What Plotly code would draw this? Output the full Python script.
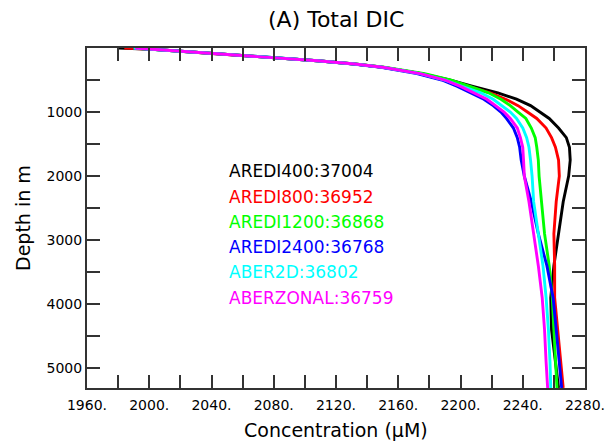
import plotly.graph_objects as go

depth = [0, 10, 20, 50, 100, 150, 200, 250, 300, 400, 500, 600, 700, 800, 900,
         1000, 1100, 1250, 1400, 1550, 1750, 2000, 2400, 2900, 3400, 3900,
         4400, 4900, 5310]

aredi400 = [1980, 1993, 2002, 2020, 2050, 2080, 2108, 2132, 2150, 2175, 2193, 2208,
            2224, 2236, 2245, 2251, 2257, 2263, 2268, 2270, 2270.5, 2269.5, 2266,
            2263, 2260, 2258, 2258.5, 2261, 2263]
aredi800 = [1984, 1995, 2002, 2020, 2050, 2080, 2108, 2132, 2150, 2175, 2192, 2205,
            2219, 2229, 2237, 2243, 2249, 2255, 2258.5, 2261, 2263, 2263.5, 2261.5,
            2260, 2260.5, 2260.5, 2262.5, 2264.5, 2266]
aredi1200 = [1990, 1997, 2002, 2020, 2050, 2080, 2108, 2132, 2151, 2177, 2194, 2206,
             2218, 2226, 2232, 2237, 2242, 2245.5, 2248, 2249, 2250, 2250.5, 2252,
             2254, 2257, 2259, 2260, 2261, 2262]
aredi2400 = [1990, 1997, 2002, 2020, 2050, 2080, 2108, 2131, 2149, 2172, 2188, 2198,
             2207, 2215, 2221, 2226, 2229.5, 2234, 2236.5, 2238, 2239, 2241, 2245.5,
             2250, 2255.5, 2259.5, 2261.5, 2263.5, 2265]
aber2d = [1990, 1997, 2002, 2020, 2050, 2080, 2108, 2132, 2150, 2174, 2190, 2201,
          2213, 2221, 2226.5, 2232, 2236, 2240, 2242.5, 2244, 2245, 2246, 2247,
          2250, 2253, 2255, 2256.5, 2257.5, 2258]
aberzonal = [1991, 1997, 2002, 2020, 2050, 2080, 2108, 2132, 2150, 2174, 2190, 2200,
             2209, 2217, 2222.5, 2228, 2232, 2236.5, 2238.5, 2240, 2240.5, 2241, 2244,
             2247, 2250, 2252.5, 2254, 2255, 2256]

series_names = ["AREDI400:37004", "AREDI800:36952", "AREDI1200:36868",
                "AREDI2400:36768", "ABER2D:36802", "ABERZONAL:36759"]
series_values = [aredi400, aredi800, aredi1200, aredi2400, aber2d, aberzonal]
series_colors = ["#000000", "#ff0000", "#00ff00", "#0000ff", "#00ffff", "#ff00ff"]

x_tickvals = list(range(1960, 2281, 20))
x_ticktext = [f"{v}." if (v - 1960) % 40 == 0 else "" for v in x_tickvals]
y_tickvals = list(range(0, 5001, 500))
y_ticktext = [str(v) if v % 1000 == 0 and v > 0 else "" for v in y_tickvals]

FONT = "DejaVu Sans"
fig = go.Figure()
for name, vals, col in zip(series_names, series_values, series_colors):
    fig.add_trace(go.Scatter(x=vals, y=depth, mode="lines", name=name,
                             line=dict(color=col, width=2.9), showlegend=False,
                             hoverinfo="skip"))

# text legend
leg_y = [0.638, 0.562, 0.488, 0.415, 0.341, 0.265]
for name, col, yy in zip(series_names, series_colors, leg_y):
    fig.add_annotation(text=name, xref="paper", yref="paper", x=0.281, y=yy,
                       xanchor="left", yanchor="middle", showarrow=False,
                       font=dict(family=FONT, size=17, color=col))

fig.add_annotation(text="(A) Total DIC", xref="paper", yref="paper", x=0.5,
                   y=1.0, yshift=29, xanchor="center", yanchor="middle",
                   showarrow=False, font=dict(family=FONT, size=22, color="#000"))
fig.add_annotation(text="Concentration (μM)", xref="paper", yref="paper", x=0.5,
                   y=0.0, yshift=-42, xanchor="center", yanchor="middle",
                   showarrow=False, font=dict(family=FONT, size=19, color="#000"))
fig.add_annotation(text="Depth in m", xref="paper", yref="paper", x=0.0,
                   xshift=-64, y=0.5, textangle=-90, xanchor="center",
                   yanchor="middle", showarrow=False,
                   font=dict(family=FONT, size=19, color="#000"))

axis_common = dict(showgrid=False, zeroline=False, showline=True, linecolor="#333",
                   linewidth=2, mirror="ticks", ticks="inside", ticklen=13,
                   tickwidth=1.5, tickcolor="#333", automargin=False,
                   tickfont=dict(family=FONT, size=14, color="#000"))
fig.update_xaxes(range=[1960, 2280], tickmode="array", tickvals=x_tickvals,
                 ticktext=x_ticktext, ticklabelstandoff=3, **axis_common)
fig.update_yaxes(range=[5310, 0], tickmode="array", tickvals=y_tickvals,
                 ticktext=y_ticktext, **axis_common)

fig.update_layout(width=608, height=442, margin=dict(l=87, r=23, t=48, b=54),
                  plot_bgcolor="white", paper_bgcolor="white",
                  font=dict(family=FONT))
fig.write_html("out.html", config={"displayModeBar": False},
               post_script="document.body.style.margin='0';"
                           "document.body.style.overflow='hidden';")
